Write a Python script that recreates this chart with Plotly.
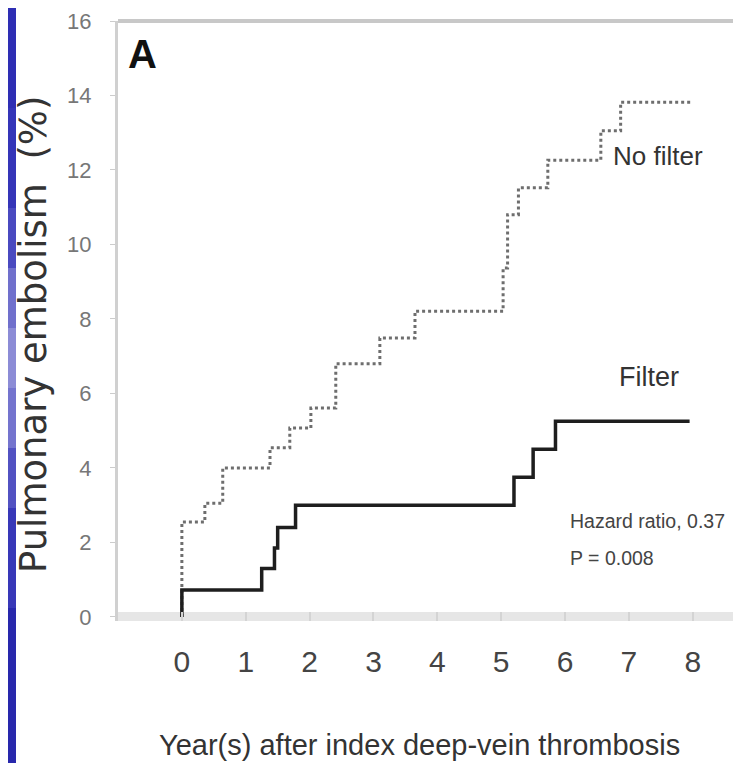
import plotly.graph_objects as go

# ---- data ----
nofilter_years = [0, 0, 0.36, 0.64, 1.38, 1.69, 2.02, 2.41, 3.10, 3.65, 5.03, 5.10, 5.27, 5.73, 6.56, 6.87, 7.97]
nofilter_pe = [0, 2.55, 3.05, 4.0, 4.54, 5.07, 5.61, 6.80, 7.49, 8.21, 9.37, 10.80, 11.52, 12.26, 13.05, 13.82, 13.82]

filter_years = [0, 0, 1.25, 1.45, 1.50, 1.78, 5.20, 5.50, 5.85, 7.95]
filter_pe = [0, 0.72, 1.30, 1.85, 2.40, 3.0, 3.75, 4.50, 5.25, 5.25]

x_ticks = [0, 1, 2, 3, 4, 5, 6, 7, 8]
y_ticks = [0, 2, 4, 6, 8, 10, 12, 14, 16]

SANS = "Liberation Sans, Arial, sans-serif"

fig = go.Figure()
fig.add_trace(go.Scatter(
    x=nofilter_years, y=nofilter_pe, mode="lines", line_shape="hv",
    line=dict(color="#6e6e6e", width=3, dash="dot"), name="No filter",
))
fig.add_trace(go.Scatter(
    x=filter_years, y=filter_pe, mode="lines", line_shape="hv",
    line=dict(color="#1e1e1e", width=3.5), name="Filter",
))

# left blue slide strip (gradient approximation)
strip = [
    (0, 100, "#2e2eb4"), (100, 200, "#3535b8"), (200, 260, "#4a4ac0"),
    (260, 320, "#7070cc"), (320, 380, "#8c8cd6"), (380, 440, "#7474ce"),
    (440, 500, "#5252c2"), (500, 600, "#3838b8"), (600, 763, "#2828ac"),
]
shapes = []
W, H, L, T, B = 741, 763, 110, 13, 150
PW, PH = W - L, H - T - B
for y0, y1, c in strip:
    shapes.append(dict(type="rect", xref="paper", yref="paper",
                       x0=(0 - L) / PW, x1=(8 - L) / PW,
                       y0=(H - B - y1) / PH, y1=(H - B - y0) / PH,
                       fillcolor=c, line=dict(width=0), layer="below"))
# top border line
shapes.append(dict(type="line", xref="paper", yref="paper", x0=0, x1=1, y0=1, y1=1,
                   line=dict(color="#c8c8c8", width=4)))

fig.update_layout(
    width=W, height=H,
    margin=dict(l=L, r=0, t=T, b=B),
    paper_bgcolor="white", plot_bgcolor="white",
    showlegend=False,
    shapes=shapes,
    xaxis=dict(range=[-1, 8.88], tickvals=x_ticks, ticktext=[str(v) for v in x_ticks],
               showgrid=False, zeroline=False, showline=False,
               ticks="inside", ticklen=9, tickwidth=2, tickcolor="#d4d4d4",
               tickfont=dict(family=SANS, size=30, color="#444444"),
               ticklabelstandoff=20),
    yaxis=dict(range=[-0.11, 16.0001], tickvals=y_ticks, ticktext=[str(v) for v in y_ticks],
               showgrid=False, zeroline=True, zerolinecolor="#e6e6e6", zerolinewidth=9,
               showline=True, linecolor="#d0d0d0", linewidth=3,
               ticks="outside", ticklen=5, tickcolor="#cccccc",
               tickfont=dict(family=SANS, size=22, color="#777777"),
               ticklabelstandoff=14),
)

annos = [
    dict(text="Pulmonary embolism\u00a0\u00a0(%)", xref="paper", yref="paper",
         x=(25 - L) / PW, y=(H - B - 327) / PH, textangle=-90,
         font=dict(family="DejaVu Sans, sans-serif", size=37, color="#333333")),
    dict(text="Year(s) after index deep-vein thrombosis", xref="paper", yref="paper",
         x=(411 - L) / PW, y=(H - B - 737) / PH,
         font=dict(family=SANS, size=29, color="#333333")),
    dict(text="<b>A</b>", xref="paper", yref="paper",
         x=(134 - L) / PW, y=(H - B - 46) / PH,
         font=dict(family=SANS, size=40, color="#111111")),
    dict(text="No filter", xref="x", yref="y", x=7.45, y=12.38,
         font=dict(family=SANS, size=26, color="#333333")),
    dict(text="Filter", xref="x", yref="y", x=7.31, y=6.45,
         font=dict(family=SANS, size=27, color="#333333")),
    dict(text="Hazard ratio, 0.37", xref="x", yref="y", x=6.04, y=2.57, xanchor="left",
         font=dict(family=SANS, size=19.5, color="#444444")),
    dict(text="P = 0.008", xref="x", yref="y", x=6.04, y=1.58, xanchor="left",
         font=dict(family=SANS, size=19.5, color="#444444")),
]
for a in annos:
    a.setdefault("xanchor", "center")
    a["yanchor"] = "middle"
    a["showarrow"] = False
fig.update_layout(annotations=annos)

fig.write_html("out.html")
